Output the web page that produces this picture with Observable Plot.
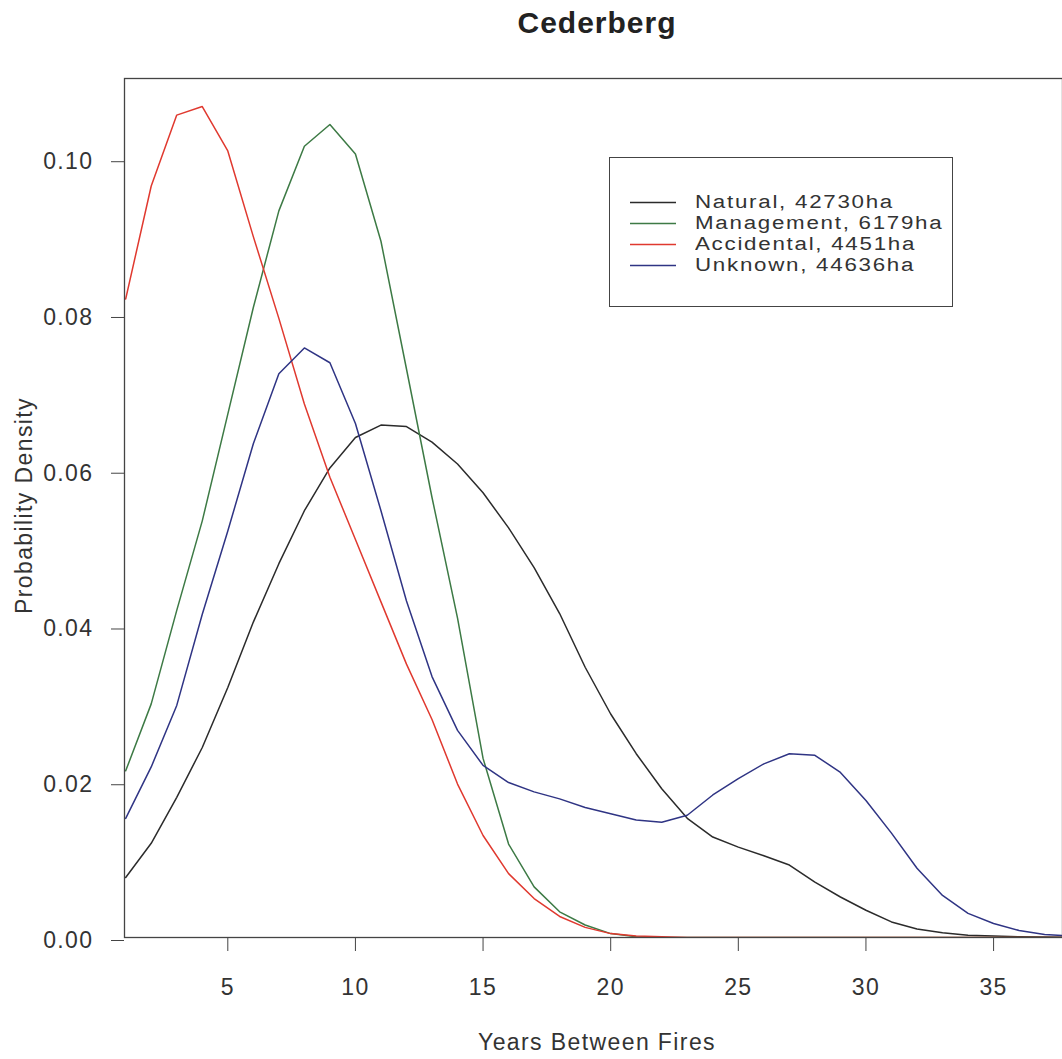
<!DOCTYPE html>
<html>
<head>
<meta charset="utf-8">
<script src="https://cdn.jsdelivr.net/npm/d3@7"></script>
<script src="https://cdn.jsdelivr.net/npm/@observablehq/plot@0.6"></script>
<style>
  body { margin: 0; background: #fff; }
  #wrap { position: relative; width: 1062px; height: 1059px; overflow: hidden;
          font-family: "Liberation Sans", Arial, sans-serif; color: #333; }
  .ov { position: absolute; white-space: nowrap; line-height: 1; }
  #title { font-weight: bold; font-size: 30px; letter-spacing: 1px; color: #222; }
  .lab { font-size: 23px; letter-spacing: 1.4px; }
  #legend { position: absolute; box-sizing: border-box; border: 1px solid #444; background: #fff; }
  .lrow { position: absolute; left: 0; height: 21px; width: 100%; }
  .lrow svg { position: absolute; left: 20px; top: 0; }
  .lrow span { position: absolute; left: 85px; top: 0; font-size: 18px; letter-spacing: 1.4px;
               line-height: 21px; transform: scaleX(1.24); transform-origin: 0 50%; }
</style>
</head>
<body>
<div id="wrap"></div>
<script>
// ---- data ----
const years = d3.range(1, 39); // 1 .. 38
const natural    = [0.0077,0.0121,0.0180,0.0244,0.0321,0.0405,0.0480,0.0548,0.0603,0.0642,
                    0.0658,0.0656,0.0636,0.0608,0.0571,0.0526,0.0475,0.0416,0.0347,0.0287,
                    0.0236,0.0191,0.0153,0.0129,0.0116,0.0105,0.0093,0.0071,0.0052,0.0035,
                    0.0020,0.0011,0.0006,0.0003,0.0002,0.0001,0.00005,0.00002];
const management = [0.0214,0.0300,0.0420,0.0535,0.0672,0.0809,0.0933,0.1016,0.1044,0.1006,
                    0.0894,0.0730,0.0565,0.0410,0.0230,0.0120,0.0065,0.0033,0.0016,0.0005,
                    0.0001,0,0,0,0,0,0,0,0,0,
                    0,0,0,0,0,0,0,0];
const accidental = [0.0820,0.0965,0.1056,0.1067,0.1010,0.0900,0.0795,0.0685,0.0591,0.0511,
                    0.0431,0.0351,0.0280,0.0197,0.0131,0.0082,0.0050,0.0027,0.0013,0.0005,
                    0.0002,0.0001,0,0,0,0,0,0,0,0,
                    0,0,0,0,0,0,0,0];
const unknown    = [0.0153,0.0219,0.0298,0.0415,0.0522,0.0634,0.0724,0.0757,0.0738,0.0660,
                    0.0548,0.0432,0.0335,0.0266,0.0221,0.0199,0.0187,0.0178,0.0167,0.0159,
                    0.0151,0.0148,0.0157,0.0183,0.0204,0.0223,0.0236,0.0234,0.0212,0.0176,
                    0.0134,0.0089,0.0054,0.0031,0.0018,0.0009,0.0004,0.0002];
const seriesNames  = ["Natural, 42730ha", "Management, 6179ha", "Accidental, 4451ha", "Unknown, 44636ha"];
const seriesColors = ["#2b2b2b", "#3d7a45", "#e0392f", "#2f3484"];
const xTicks = [5, 10, 15, 20, 25, 30, 35];
const yTicks = [0.00, 0.02, 0.04, 0.06, 0.08, 0.10];
const titleText = "Cederberg";
const xLabel = "Years Between Fires";
const yLabel = "Probability Density";

const allSeries = [natural, management, accidental, unknown];
const rows = allSeries.flatMap((vals, k) =>
  vals.map((v, i) => ({year: years[i], density: v, series: seriesNames[k]})));

const chart = Plot.plot({
  width: 1062,
  height: 1059,
  marginTop: 78,
  marginLeft: 124,
  marginRight: 0,
  marginBottom: 122,
  style: {fontFamily: "'Liberation Sans', Arial, sans-serif", fontSize: "23px",
          color: "#333", background: "white", letterSpacing: "1.4px"},
  x: {domain: [0.953, 37.7]},
  y: {domain: [0, 0.1103]},
  color: {domain: seriesNames, range: seriesColors},
  marks: [
    Plot.line(rows, {x: "year", y: "density", z: "series", stroke: "series",
                     strokeWidth: 1.5, clip: true}),
    Plot.frame({stroke: "#444", strokeWidth: 1.3}),
    Plot.axisX({ticks: xTicks, tickSize: 14, tickPadding: 27, tickFormat: d => String(d),
                label: null, stroke: "#444", fill: "#333"}),
    Plot.axisY({ticks: yTicks, tickSize: 13, tickPadding: 18, tickFormat: d3.format(".2f"),
                label: null, stroke: "#444", fill: "#333", dy: 3})
  ]
});

const wrap = document.getElementById("wrap");
wrap.appendChild(chart);

// title
const t = document.createElement("div");
t.id = "title"; t.className = "ov"; t.textContent = titleText;
t.style.left = "597px"; t.style.top = "8px"; t.style.transform = "translateX(-50%)";
wrap.appendChild(t);

// x label
const xl = document.createElement("div");
xl.className = "ov lab"; xl.textContent = xLabel;
xl.style.left = "597px"; xl.style.top = "1031px"; xl.style.transform = "translateX(-50%)";
wrap.appendChild(xl);

// y label
const yl = document.createElement("div");
yl.className = "ov lab"; yl.textContent = yLabel;
yl.style.left = (24 - 150) + "px"; yl.style.top = (505 - 11.5) + "px";
yl.style.width = "300px"; yl.style.height = "23px"; yl.style.textAlign = "center";
yl.style.transform = "rotate(-90deg)";
wrap.appendChild(yl);

// legend
const lg = document.createElement("div");
lg.id = "legend";
lg.style.left = "609px"; lg.style.top = "157px"; lg.style.width = "344px"; lg.style.height = "150px";
seriesNames.forEach((name, k) => {
  const r = document.createElement("div");
  r.className = "lrow";
  r.style.top = (34 + k * 21) + "px";
  r.innerHTML = `<svg width="46" height="21"><line x1="0" x2="46" y1="10.5" y2="10.5" stroke="${seriesColors[k]}" stroke-width="1.6"/></svg><span></span>`;
  r.querySelector("span").textContent = name;
  lg.appendChild(r);
});
wrap.appendChild(lg);
</script>
</body>
</html>
